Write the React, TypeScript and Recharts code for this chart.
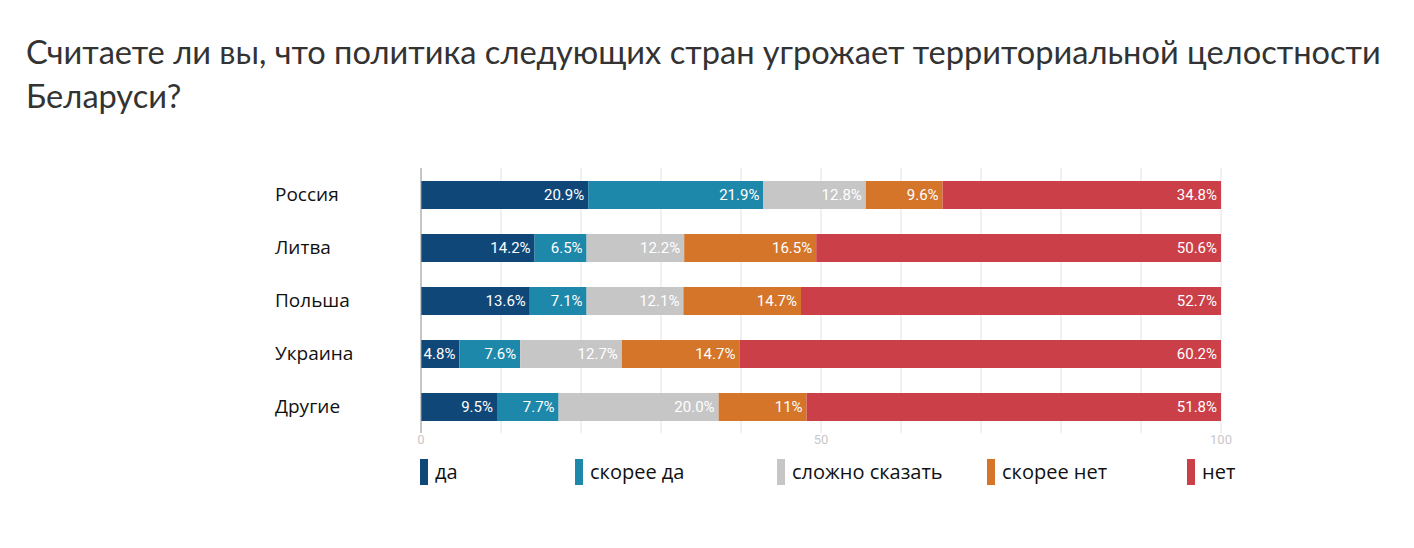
import { BarChart, Bar, XAxis, YAxis, CartesianGrid, LabelList } from 'recharts'

const countries = ['Россия', 'Литва', 'Польша', 'Украина', 'Другие']
// values as printed on the bars
const yes = ['20.9', '14.2', '13.6', '4.8', '9.5']
const ratherYes = ['21.9', '6.5', '7.1', '7.6', '7.7']
const hardToSay = ['12.8', '12.2', '12.1', '12.7', '20.0']
const ratherNo = ['9.6', '16.5', '14.7', '14.7', '11']
const no = ['34.8', '50.6', '52.7', '60.2', '51.8']
const xTicks = [0, 50, 100]
const gridTicks = [0, 10, 20, 30, 40, 50, 60, 70, 80, 90, 100]

const SERIES = [
  { key: 'yes', name: 'да', color: '#0f4878', values: yes },
  { key: 'ratherYes', name: 'скорее да', color: '#1e88aa', values: ratherYes },
  { key: 'hard', name: 'сложно сказать', color: '#c6c6c6', values: hardToSay },
  { key: 'ratherNo', name: 'скорее нет', color: '#d5752a', values: ratherNo },
  { key: 'no', name: 'нет', color: '#cb3f48', values: no },
]

const data = countries.map((c, i) => {
  const row: Record<string, any> = { country: c }
  SERIES.forEach((s) => {
    row[s.key] = Number(s.values[i])
    row[s.key + 'Label'] = s.values[i] + '%'
  })
  return row
})

const LEGEND_X = [420, 575, 777, 987, 1187]

const CountryTick = (props: any) => {
  const { y, payload } = props
  return (
    <text x={275} y={y} dy={6} textAnchor="start" fontSize={19} fill="#111" fontFamily="'Open Sans', sans-serif">
      {payload.value}
    </text>
  )
}

const gridCoords = (props: any) => {
  const scale = props.xAxis?.scale
  if (typeof scale === 'function') return gridTicks.map((t) => scale(t))
  const o = props.offset
  if (!o) return []
  return gridTicks.map((t) => o.left + (o.width * t) / 100)
}

export default function App() {
  return (
    <div style={{ position: 'absolute', left: 0, top: 0, width: 1414, height: 548, background: '#fff' }}>
      <div
        style={{
          position: 'absolute',
          left: 26,
          top: 30,
          width: 1385,
          fontFamily: 'Lato, sans-serif',
          fontSize: 32.6,
          lineHeight: '44px',
          color: '#333',
        }}
      >
        Считаете ли вы, что политика следующих стран угрожает территориальной целостности Беларуси?
      </div>
      <div style={{ position: 'absolute', left: 0, top: 0 }}>
        <BarChart
          width={1414}
          height={548}
          data={data}
          layout="vertical"
          barSize={28}
          margin={{ top: 168, right: 193, bottom: 85, left: 0 }}
        >
          <CartesianGrid horizontal={false} stroke="#e2e2e2" verticalCoordinatesGenerator={gridCoords} />
          <XAxis
            type="number"
            domain={[0, 100]}
            allowDataOverflow
            ticks={xTicks}
            axisLine={false}
            tickLine={false}
            tickSize={0}
            tick={{ fill: '#c8c8c8', fontSize: 13, fontFamily: 'Roboto, sans-serif' }}
            height={30}
          />
          <YAxis
            type="category"
            dataKey="country"
            width={421}
            axisLine={{ stroke: '#9a9a9a' }}
            tickLine={false}
            tick={<CountryTick />}
          />
          {SERIES.map((s) => (
            <Bar key={s.key} dataKey={s.key} name={s.name} stackId="a" fill={s.color} isAnimationActive={false}>
              <LabelList
                dataKey={s.key + 'Label'}
                position="insideRight"
                offset={4}
                fill="#fff"
                fontSize={15}
                fontFamily="Roboto, sans-serif"
              />
            </Bar>
          ))}
        </BarChart>
      </div>
      {SERIES.map((s, i) => (
        <div
          key={s.key}
          style={{ position: 'absolute', left: LEGEND_X[i], top: 458, display: 'flex', alignItems: 'center' }}
        >
          <span style={{ display: 'inline-block', width: 8, height: 26, background: s.color, marginRight: 7 }} />
          <span style={{ fontFamily: "'Open Sans', sans-serif", fontSize: 20, color: '#111' }}>{s.name}</span>
        </div>
      ))}
    </div>
  )
}
